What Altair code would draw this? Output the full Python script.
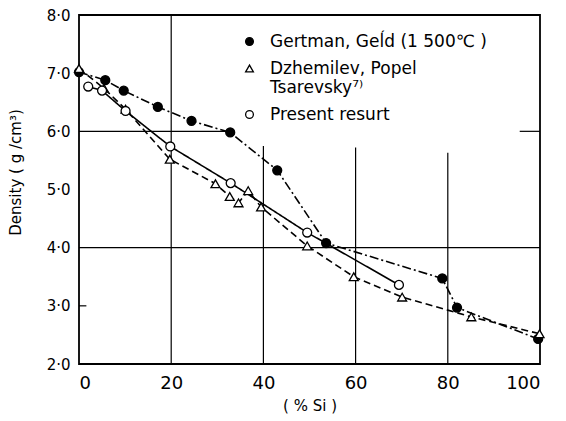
import altair as alt
import pandas as pd

series_names = ["Gertman,  Geĺd  (1 500℃ )", "Dzhemilev,  Popel|Tsarevsky⁷⁾", "Present  resurt"]

gert_x = [0, 5.7, 9.7, 17.1, 24.4, 32.8, 43.0, 53.6, 78.8, 82.0, 99.6]
gert_y = [7.02, 6.88, 6.70, 6.42, 6.18, 5.98, 5.33, 4.08, 3.47, 2.97, 2.43]

dzh_x = [0, 5.4, 10.1, 19.7, 29.6, 32.7, 34.6, 36.7, 39.5, 49.5, 59.6, 70.1, 85.1, 99.9]
dzh_y = [7.08, 6.74, 6.38, 5.52, 5.10, 4.88, 4.77, 4.98, 4.70, 4.03, 3.50, 3.15, 2.81, 2.52]

pres_x = [2.0, 5.0, 10.1, 19.8, 32.9, 49.5, 69.4]
pres_y = [6.77, 6.70, 6.35, 5.74, 5.11, 4.26, 3.36]

# grid segments as drawn in the figure
vgrid_x = [20, 40, 60, 80]
vgrid_top = [8.0, 5.75, 5.72, 5.63]
hgrid_y = [6, 6, 4, 3]
hgrid_x1 = [0, 95.6, 0, 0]
hgrid_x2 = [32.5, 100, 100, 1.6]

x_ticks = [0, 20, 40, 60, 80, 100]
y_ticks = [2, 3, 4, 5, 6, 7, 8]

rows = []
for i, (name, xs, ys) in enumerate([(series_names[0], gert_x, gert_y),
                                    (series_names[1], dzh_x, dzh_y),
                                    (series_names[2], pres_x, pres_y)]):
    for xv, yv in zip(xs, ys):
        rows.append({"series": name, "line": "L%d" % i, "si": xv, "density": yv})
df = pd.DataFrame(rows)

vgrid = pd.DataFrame({"x": vgrid_x, "y1": [2.0] * len(vgrid_x), "y2": vgrid_top})
hgrid = pd.DataFrame({"y": hgrid_y, "x1": hgrid_x1, "x2": hgrid_x2})

FONT = "DejaVu Sans"

xscale = alt.Scale(domain=[0, 100], nice=False)
yscale = alt.Scale(domain=[2, 8], nice=False, zero=False)

xaxis = alt.Axis(values=x_ticks, title="( % Si )", labelPadding=10, titlePadding=6,
                 labelFontSize=18, titleFontSize=15)
yaxis = alt.Axis(values=y_ticks, title="Density  ( g /cm³)", labelPadding=9,
                 titleX=-56, titleY=157,
                 labelFontSize=15, titleFontSize=15,
                 labelExpr="replace(format(datum.value, '.1f'), '.', '·')")

vrules = alt.Chart(vgrid).mark_rule(color="black", strokeWidth=1.2).encode(
    x=alt.X("x:Q", scale=xscale, axis=xaxis),
    y=alt.Y("y1:Q", scale=yscale, axis=yaxis),
    y2="y2:Q",
)

hrules = alt.Chart(hgrid).mark_rule(color="black", strokeWidth=1.2).encode(
    y=alt.Y("y:Q", scale=yscale),
    x=alt.X("x1:Q", scale=xscale),
    x2="x2:Q",
)

lines = alt.Chart(df).mark_line(color="black", strokeWidth=1.6).encode(
    x=alt.X("si:Q", scale=xscale),
    y=alt.Y("density:Q", scale=yscale),
    strokeDash=alt.StrokeDash("line:N",
                              scale=alt.Scale(domain=["L0", "L1", "L2"],
                                              range=[[9, 3, 2, 3], [7, 4], [1, 0]]),
                              legend=None),
)

legend = alt.Legend(title=None, orient="none", legendX=162, legendY=18,
                    labelFont=FONT, labelFontSize=17, labelColor="black",
                    labelExpr="split(datum.label, '|')", labelLimit=400,
                    symbolStrokeColor="black", symbolStrokeWidth=1.3,
                    symbolSize=60, labelOffset=12, rowPadding=9)

points = alt.Chart(df).mark_point(strokeWidth=1.3, opacity=1, size=80).encode(
    x=alt.X("si:Q", scale=xscale),
    y=alt.Y("density:Q", scale=yscale),
    shape=alt.Shape("series:N", sort=series_names,
                    scale=alt.Scale(domain=series_names, range=["circle", "triangle-up", "circle"]),
                    legend=legend),
    fill=alt.Fill("series:N", sort=series_names,
                  scale=alt.Scale(domain=series_names, range=["black", "white", "white"]),
                  legend=legend),
    stroke=alt.Stroke("series:N", sort=series_names,
                      scale=alt.Scale(domain=series_names, range=["black", "black", "black"]),
                      legend=legend),
)

chart = alt.layer(vrules, hrules, lines, points).properties(
    width=461, height=349,
    padding={"left": 0, "top": 0, "right": 0, "bottom": 5},
).configure_view(
    stroke="black", strokeWidth=1.8,
).configure_axis(
    domain=False, ticks=False, grid=False,
    labelFont=FONT, labelColor="black",
    titleFont=FONT, titleColor="black", titleFontWeight="normal",
)

chart.save("out.html", embed_options={"renderer": "svg", "actions": False})
